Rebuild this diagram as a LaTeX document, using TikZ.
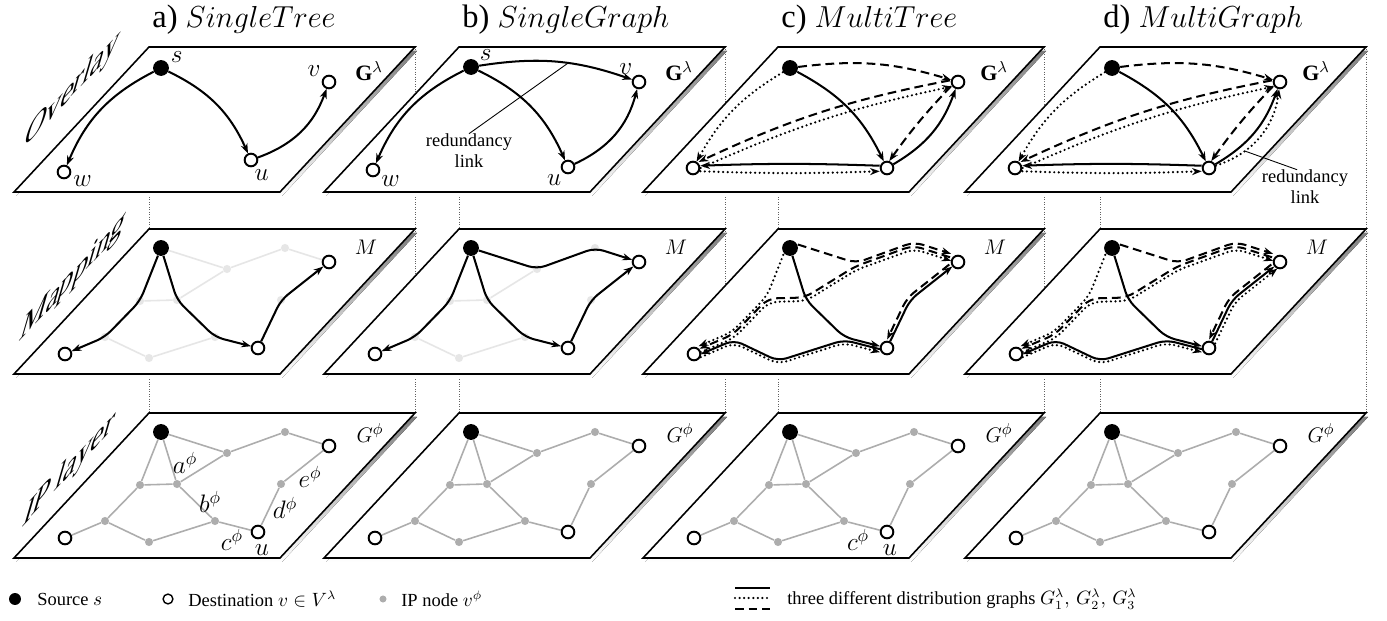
\documentclass[tikz,border=0pt]{standalone}
\usepackage{fontspec}
\setmainfont{Liberation Serif}
\usetikzlibrary{arrows.meta}
\definecolor{shade}{HTML}{9C9C9C}
\definecolor{ipGray}{HTML}{ADADAD}
\definecolor{ipFaint}{HTML}{E6E6E6}
\definecolor{guideGray}{HTML}{606060}
\newcommand\ipspots{g1/136/-19,g2/78/-40,g3/-9/-72,g4/28/-71,g5/-44/-108,g6/66/-108,g7/0/-129,g8/132/-71}
\newcommand\iplinks{s/g2,g2/g1,g1/v,s/g3,s/g4,g3/g4,g4/g2,g4/g6,g6/u,g3/g5,g5/w,g5/g7,g7/g6,u/g8,g8/v}
\tikzset{
  panel/.style={draw=black,line width=0.9pt,fill=white},
  guide/.style={guideGray,line width=0.4pt,densely dotted},
  src/.style={circle,fill=black,inner sep=0pt,minimum size=9pt},
  dst/.style={circle,draw=black,fill=white,line width=1.1pt,inner sep=0pt,minimum size=7.2pt},
  ipnode/.style={circle,fill=ipGray,inner sep=0pt,minimum size=4.6pt},
  ipfaint/.style={circle,fill=ipFaint,inner sep=0pt,minimum size=4.6pt},
  ipedge/.style={ipGray,line width=0.9pt},
  faintedge/.style={ipFaint,line width=0.9pt},
  lineA/.style={line width=1.15pt},
  lineB/.style={line width=1.4pt,dash pattern=on 0pt off 2.6pt,line cap=round},
  lineC/.style={line width=1.15pt,dash pattern=on 5pt off 2.8pt},
  arrowed/.style={-{Stealth[length=5.5pt,width=4pt]}},
  route/.style={rounded corners=5pt},
  nudge/.style={transform canvas={shift={#1}}},
  lbl/.style={font=\fontsize{14}{14}\selectfont,inner sep=1pt},
  tag/.style={font=\fontsize{12.5}{12.5}\selectfont,inner sep=0pt},
  heading/.style={font=\fontsize{18.5}{20}\selectfont,anchor=base west,inner sep=0pt},
  rowname/.style={font=\fontsize{24}{24}\selectfont,inner sep=0pt,cm={0.682,0.731,0.28,0.96,(0,0)}},
  note/.style={font=\fontsize{10.5}{12}\selectfont,align=center,inner sep=0pt},
  pointer/.style={line width=0.5pt},
  legtext/.style={font=\fontsize{10.5}{12}\selectfont,anchor=west,inner sep=0pt},
}
\begin{document}
\begin{tikzpicture}[x=0.02cm,y=0.02cm]
  \path[use as bounding box] (0,0) rectangle (1387,-621);
  \foreach \cx in {149,459,778,1100} {
    \draw[guide] (\cx,-47) -- (\cx,-413);
    \draw[guide] (\cx+266,-47) -- (\cx+266,-413);
  }
  \foreach \ry in {47,229,413} \foreach \cx in {149,459,778,1100} {
    \fill[shade] (\cx+2,-\ry-4) -- ++(266,0) -- ++(-135,-145) -- ++(-266,0) -- cycle;
    \draw[panel] (\cx,-\ry) -- ++(266,0) -- ++(-135,-145) -- ++(-266,0) -- cycle;
  }
  \foreach \cx/\txt [count=\k] in {149/{a) $SingleTree$},459/{b) $SingleGraph$},778/{c) $MultiTree$},1100/{d) $MultiGraph$}}
    \node[heading] (head\k) at (\cx+3,-28) {\txt};
  \node[rowname] (rowOv) at (72,-90) {Overlay};
  \node[rowname] (rowMap) at (73,-278) {Mapping};
  \node[rowname] (rowIP) at (69,-470) {IP layer};

  \begin{scope}[shift={(149,-47)}]
    \node[src,label={[lbl]22:$s$}] (s) at (12,-21) {};
    \node[dst,label={[lbl]150:$v$}] (v) at (180,-35) {};
    \node[dst,label={[lbl]-10:$w$}] (w) at (-85,-125) {};
    \node[dst,label={[lbl]-78:$u$}] (u) at (102,-113) {};
    \node[tag] (gA) at (220,-24) {$\mathbf{G}^\lambda$};
    \draw[lineA,arrowed] (s) to[bend right=20] (w);
    \draw[lineA,arrowed] (s) to[bend left=20] (u);
    \draw[lineA,arrowed] (u) to[bend right=25] (v);
  \end{scope}
  \begin{scope}[shift={(459,-47)}]
    \node[src,label={[lbl]35:$s$}] (s) at (12,-20) {};
    \node[dst,label={[lbl]130:$v$}] (v) at (180,-35) {};
    \node[dst,label={[lbl]-30:$w$}] (w) at (-86,-123) {};
    \node[dst,label={[lbl]-130:$u$}] (u) at (109,-120) {};
    \node[tag] (gB) at (220,-24) {$\mathbf{G}^\lambda$};
    \draw[lineA,arrowed] (s) to[bend right=20] (w);
    \draw[lineA,arrowed] (s) to[bend left=20] (u);
    \draw[lineA,arrowed] (u) to[bend right=25] (v);
    \draw[lineA,arrowed] (s) to[bend left=14] coordinate[pos=.58] (rdB) (v);
    \node[note] (rlB) at (10,-104) {redundancy\\link};
    \draw[pointer] (rlB.north) -- (rdB);
  \end{scope}
  \foreach \cx in {778,1100} {
    \begin{scope}[shift={(\cx,-47)}]
      \node[src] (s) at (12,-21) {};
      \node[dst] (v) at (180,-35) {};
      \node[dst] (w) at (-85,-121) {};
      \node[dst] (u) at (109,-121) {};
      \node[tag] (gC) at (216,-24) {$\mathbf{G}^\lambda$};
      \draw[lineC,arrowed] (s) to[bend left=12] (v);
      \draw[lineB,arrowed] (s) to[bend right=15] (w);
      \draw[lineA,arrowed] (s) to[bend left=18] (u);
      \draw[lineC,arrowed,nudge={(-1,3)}] (v) to[bend right=7] (w);
      \draw[lineB,arrowed,nudge={(1,-3)}] (w) to[bend left=6] (v);
      \draw[lineA,arrowed,nudge={(0,2)}] (u) to[bend right=2] (w);
      \draw[lineB,arrowed,nudge={(0,-3)}] (w) to[bend right=2] (u);
      \draw[lineA,arrowed] (u) to[bend right=20] (v);
      \draw[lineC,arrowed,nudge={(-2,1)}] (v) to[bend right=4] (u);
      \ifnum\cx=1100
        \draw[lineB,arrowed] (u) to[bend right=32] coordinate[pos=.3] (rdD) (v);
        \node[note] (rlD) at (205,-140) {redundancy\\link};
        \draw[pointer] ([xshift=-4.5pt]rlD.north) -- (rdD);
      \fi
    \end{scope}
  }

  \foreach \cx in {149,459} {
    \begin{scope}[shift={(\cx,-229)}]
      \foreach \n/\gx/\gy in \ipspots \node[ipfaint] (\n) at (\gx,\gy) {};
      \node[src] (s) at (12,-19) {};
      \node[dst] (v) at (180,-33) {};
      \node[dst] (w) at (-84,-125) {};
      \node[dst] (u) at (109,-119) {};
      \node[tag] (mA) at (217,-18) {$M$};
      \foreach \a/\b in \iplinks \draw[faintedge] (\a) -- (\b);
      \draw[lineA,arrowed,route] (s) -- (g3.center) -- (g5.center) -- (w);
      \draw[lineA,arrowed,route] (s) -- (g4.center) -- (g6.center) -- (u);
      \draw[lineA,arrowed,route] (u) -- (g8.center) -- (v);
      \ifnum\cx=459
        \draw[lineA,arrowed,route] (s) -- (g2.center) -- (g1.center) -- (v);
      \fi
    \end{scope}
  }
  \foreach \cx in {778,1100} {
    \begin{scope}[shift={(\cx,-229)}]
      \foreach \n/\gx/\gy in \ipspots \coordinate (\n) at (\gx,\gy);
      \node[src] (s) at (12,-19) {};
      \node[dst] (v) at (180,-33) {};
      \node[dst] (w) at (-84,-125) {};
      \node[dst] (u) at (109,-119) {};
      \node[tag] (mC) at (217,-18) {$M$};
      \draw[lineA,arrowed,route] (s) -- (g4.center) -- (g6.center) -- (u);
      \draw[lineA,arrowed,route,nudge={(0,-3)}] (u) -- (g6.center) -- (g7.center) -- (g5.center) -- (w);
      \draw[lineA,arrowed,route] (u) -- (g8.center) -- (v);
      \draw[lineB,arrowed,route,nudge={(-2,5)}] (s) -- (g3.center) -- (g5.center) -- (w);
      \draw[lineB,arrowed,route,nudge={(0,-6)}] (w) -- (g5.center) -- (g7.center) -- (g6.center) -- (u);
      \draw[lineB,arrowed,route,nudge={(0,-1)}] (w) -- (g5.center) -- (g3.center) -- (g4.center) -- (g2.center) -- (g1.center) -- (v);
      \draw[lineC,arrowed,route,nudge={(0,6)}] (s) -- (g2.center) -- (g1.center) -- (v);
      \draw[lineC,arrowed,route,nudge={(-1,2.5)}] (v) -- (g1.center) -- (g2.center) -- (g4.center) -- (g3.center) -- (g5.center) -- (w);
      \draw[lineC,arrowed,route,nudge={(-3,2)}] (v) -- (g8.center) -- (u);
      \ifnum\cx=1100
        \draw[lineB,arrowed,route,nudge={(3,-2)}] (u) -- (g8.center) -- (v);
      \fi
    \end{scope}
  }

  \foreach \cx in {149,459,778,1100} {
    \begin{scope}[shift={(\cx,-413)}]
      \foreach \n/\gx/\gy in \ipspots \node[ipnode] (\n) at (\gx,\gy) {};
      \node[src] (s) at (12,-19) {};
      \node[dst] (v) at (180,-33) {};
      \node[dst] (w) at (-84,-125) {};
      \node[dst] (u) at (109,-119) {};
      \node[tag] (gP) at (221,-20) {$G^\phi$};
      \foreach \a/\b in \iplinks \draw[ipedge] (\a) -- (\b);
    \end{scope}
  }
  \begin{scope}[shift={(149,-413)}]
    \node[lbl] (la) at (36,-50) {$a^\phi$};
    \node[lbl] (lb) at (61,-89) {$b^\phi$};
    \node[lbl] (lc) at (83,-127) {$c^\phi$};
    \node[lbl] (ld) at (136,-95) {$d^\phi$};
    \node[lbl] (le) at (161,-64) {$e^\phi$};
    \node[lbl] (lu) at (113,-137) {$u$};
  \end{scope}
  \begin{scope}[shift={(778,-413)}]
    \node[lbl] (lc2) at (80,-127) {$c^\phi$};
    \node[lbl] (lu2) at (112,-137) {$u$};
  \end{scope}

  \node[src,minimum size=6.8pt] (kSrc) at (15,-599) {};
  \node[legtext] (kSrcT) at (37,-599) {Source $s$};
  \node[dst,minimum size=5.6pt,line width=0.8pt] (kDst) at (168,-599) {};
  \node[legtext] (kDstT) at (188,-599) {Destination $v\in V^\lambda$};
  \node[ipnode,minimum size=4pt] (kIp) at (383,-599) {};
  \node[legtext] (kIpT) at (401,-599) {IP node $v^\phi$};
  \foreach \st/\yy in {lineA/588,lineB/598,lineC/609} {
    \coordinate (kL) at (735,-\yy);
    \draw[\st] (kL) -- ++(35,0);
  }
  \node[legtext] (kLT) at (787,-599) {three different distribution graphs $G_1^\lambda,\,G_2^\lambda,\,G_3^\lambda$};
\end{tikzpicture}
\end{document}
